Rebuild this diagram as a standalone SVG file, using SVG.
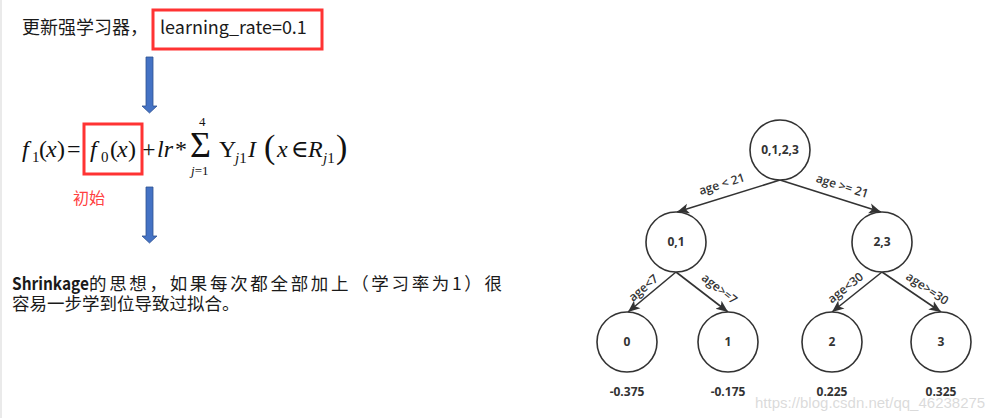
<svg xmlns="http://www.w3.org/2000/svg" width="1007" height="418" viewBox="0 0 1007 418">
<style>
.cjk{font-family:"Noto Sans CJK SC","Liberation Sans",sans-serif;fill:#1a1a1a}
.m{font-family:"Liberation Serif","DejaVu Serif",serif;font-size:24px;fill:#111}
.i{font-style:italic}
.sub{font-size:15px}
.red{fill:none;stroke:#ff3333;stroke-width:3}
.barrow{fill:#4472c4;stroke:#2f528f;stroke-width:0.8}
.node{fill:#fff;stroke:#333;stroke-width:1.6}
.nl{font-family:"Open Sans","DejaVu Sans",sans-serif;font-size:12px;font-weight:700;fill:#333;text-anchor:middle}
.el{font-family:"Open Sans","DejaVu Sans",sans-serif;font-size:12px;font-weight:600;fill:#333;text-anchor:middle}
.edge{stroke:#333;stroke-width:1.6;fill:none;marker-end:url(#ah)}
</style>
<defs>
<marker id="ah" markerUnits="userSpaceOnUse" markerWidth="14" markerHeight="12" refX="12" refY="5" orient="auto" viewBox="0 0 14 10">
<path d="M0,0 L12,5 L0,10 L3,5 Z" fill="#333"/>
</marker>
</defs>
<rect width="1007" height="418" fill="#fff"/>
<line x1="1" y1="0" x2="1" y2="418" stroke="#e3e3e3" stroke-width="1.5"/>

<g id="title">
<text class="cjk" x="22" y="34" font-size="18">更新强学习器，</text>
<rect class="red" x="153" y="10" width="169" height="39"/>
<text class="cjk" x="160" y="34" font-size="18">learning_rate=0.1</text>
</g>

<g id="arrow1"><polygon class="barrow" points="146,57 153,57 153,106 157,106 149.5,113 142,106 146,106"/></g>

<g id="formula">
<text class="m">
<tspan class="i" x="22" y="157">f</tspan><tspan class="sub" x="32" y="162">1</tspan><tspan x="39" y="157">(</tspan><tspan class="i" x="46" y="157">x</tspan><tspan x="57" y="157">)</tspan><tspan x="67" y="157">=</tspan>
<tspan class="i" x="90" y="157">f</tspan><tspan class="sub" x="101" y="162">0</tspan><tspan x="110" y="157">(</tspan><tspan class="i" x="117" y="157">x</tspan><tspan x="128" y="157">)</tspan>
<tspan x="142" y="157">+</tspan><tspan class="i" x="157" y="157">lr</tspan><tspan x="175" y="157">*</tspan>
<tspan x="190" y="157" font-size="36">Σ</tspan>
<tspan x="199" y="126" font-size="13">4</tspan>
<tspan class="i" x="191" y="175" font-size="13">j</tspan><tspan font-size="13">=1</tspan>
<tspan x="219" y="157">Y</tspan><tspan class="i sub" x="235" y="163">j</tspan><tspan class="sub">1</tspan>
<tspan class="i" x="248" y="157">I</tspan>
<tspan x="264" y="158" font-size="34">(</tspan><tspan class="i" x="277" y="157">x</tspan><tspan x="291" y="157">∈</tspan><tspan class="i" x="308" y="157">R</tspan><tspan class="i sub" x="323" y="163">j</tspan><tspan class="sub">1</tspan><tspan x="336" y="158" font-size="34">)</tspan>
</text>
<rect class="red" x="84" y="124" width="58" height="50"/>
<text class="cjk" x="73" y="204" font-size="16" style="fill:#ff4040">初始</text>
</g>

<g id="arrow2"><polygon class="barrow" points="146,187 153,187 153,236 157,236 149.5,243 142,236 146,236"/></g>

<g id="shrinkage">
<text class="cjk" x="12" y="290" font-size="17.5" font-weight="700" textLength="77" lengthAdjust="spacingAndGlyphs">Shrinkage</text>
<text class="cjk" x="89" y="290" font-size="17.5" textLength="413" lengthAdjust="spacing">的思想，如果每次都全部加上（学习率为1）很</text>
<text class="cjk" x="12" y="310" font-size="17.5">容易一步学到位导致过拟合。</text>
</g>

<g id="connectors">
<line class="edge" x1="780" y1="180" x2="677" y2="212"/>
<line class="edge" x1="780" y1="180" x2="881" y2="212"/>
<line class="edge" x1="676" y1="272" x2="628" y2="312"/>
<line class="edge" x1="676" y1="272" x2="728" y2="312"/>
<line class="edge" x1="882" y1="272" x2="832" y2="312"/>
<line class="edge" x1="882" y1="272" x2="941" y2="312"/>
<text class="el" transform="translate(723,188) rotate(-17.5)">age &lt; 21</text>
<text class="el" transform="translate(841,190) rotate(17.5)">age &gt;= 21</text>
<text class="el" transform="translate(646,291) rotate(-40)">age&lt;7</text>
<text class="el" transform="translate(717,292) rotate(38)">age&gt;=7</text>
<text class="el" transform="translate(848,291) rotate(-38)">age&lt;30</text>
<text class="el" transform="translate(925,292) rotate(34)">age&gt;=30</text>
</g>

<g id="root"><circle class="node" cx="780" cy="150" r="30"/><text class="nl" x="780" y="154">0,1,2,3</text></g>
<g id="n01"><circle class="node" cx="676" cy="242" r="30"/><text class="nl" x="676" y="246">0,1</text></g>
<g id="n23"><circle class="node" cx="882" cy="242" r="30"/><text class="nl" x="882" y="246">2,3</text></g>
<g id="leaf0"><circle class="node" cx="627" cy="342" r="30"/><text class="nl" x="627" y="346">0</text><text class="nl" x="627" y="396" font-size="11">-0.375</text></g>
<g id="leaf1"><circle class="node" cx="728" cy="342" r="30"/><text class="nl" x="728" y="346">1</text><text class="nl" x="728" y="396" font-size="11">-0.175</text></g>
<g id="leaf2"><circle class="node" cx="832" cy="342" r="30"/><text class="nl" x="832" y="346">2</text><text class="nl" x="832" y="396" font-size="11">0.225</text></g>
<g id="leaf3"><circle class="node" cx="941" cy="342" r="30"/><text class="nl" x="941" y="346">3</text><text class="nl" x="941" y="396" font-size="11">0.325</text></g>

<text x="755" y="408" font-family="Liberation Sans,sans-serif" font-size="15" fill="#d4d4d4" fill-opacity="0.85">https://blog.csdn.net/qq_46238275</text>
</svg>
